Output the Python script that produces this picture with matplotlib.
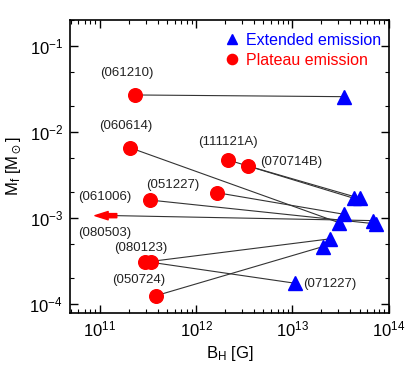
import matplotlib
matplotlib.use('Agg')
import matplotlib.pyplot as plt
import numpy as np
from matplotlib.ticker import LogLocator, NullFormatter

plt.rcParams['font.family'] = ['Liberation Sans', 'DejaVu Sans']
plt.rcParams['mathtext.fontset'] = 'custom'
plt.rcParams['mathtext.rm'] = 'Liberation Sans'
plt.rcParams['mathtext.it'] = 'Liberation Sans'
plt.rcParams['mathtext.default'] = 'regular'

# plateau emission (circle) -> extended emission (triangle), one per burst
grb = ['061210', '060614', '111121A', '070714B', '051227', '061006', '080123', '071227', '050724']
B_pl = [2.31e11, 2.05e11, 2.14e12, 3.45e12, 1.64e12, 3.30e11, 2.93e11, 3.36e11, 3.79e11]
M_pl = [2.68e-2, 6.54e-3, 4.71e-3, 4.01e-3, 1.96e-3, 1.61e-3, 3.05e-4, 3.05e-4, 1.24e-4]
B_ee = [3.42e13, 3.03e13, 4.31e13, 4.98e13, 3.42e13, 7.41e13, 2.43e13, 1.05e13, 2.07e13]
M_ee = [2.56e-2, 8.79e-4, 1.69e-3, 1.69e-3, 1.10e-3, 8.50e-4, 5.69e-4, 1.74e-4, 4.63e-4]

# 080503: upper limit on B in the plateau phase
ul_name = '080503'
ul_B = 1.50e11
ul_B_tip = 8.9e10
ul_M = 1.06e-3
ul_B_ee = 6.84e13
ul_M_ee = 9.28e-4

# label offsets in pixels (dx, dy, ha) from the circle
lab_off = {'061210': (-8, 22, 'center'), '060614': (-4, 22, 'center'),
           '111121A': (0, 18, 'center'), '070714B': (43, 4, 'center'),
           '051227': (-44, 8, 'center'), '061006': (-45, 3, 'center'),
           '080123': (-4, 14, 'center'), '050724': (-17, 16, 'center')}

fig = plt.figure(figsize=(4.19, 3.82), dpi=100)
ax = fig.add_axes([0.167, 0.181, 0.761, 0.767])

lc = '#333333'
for i in range(len(grb)):
    ax.plot([B_pl[i], B_ee[i]], [M_pl[i], M_ee[i]], '-', color=lc, lw=0.8, zorder=1)
ax.plot([ul_B, ul_B_ee], [ul_M, ul_M_ee], '-', color=lc, lw=0.8, zorder=1)

ax.plot(B_ee + [ul_B_ee], M_ee + [ul_M_ee], '^', color='blue', ms=10, mec='blue', zorder=3,
        label='Extended emission', ls='none')
ax.plot(B_pl, M_pl, 'o', color='red', ms=9.8, mec='red', zorder=3,
        label='Plateau emission', ls='none')

ax.annotate('', xy=(ul_B_tip, ul_M), xytext=(ul_B, ul_M),
            arrowprops=dict(arrowstyle='simple,head_length=0.95,head_width=0.6,tail_width=0.3',
                            color='red', mutation_scale=10, shrinkA=0, shrinkB=0), zorder=3)

for i, name in enumerate(grb):
    if name == '071227':
        ax.annotate('(' + name + ')', xy=(B_ee[i], M_ee[i]), xytext=(9, -1),
                    textcoords='offset pixels', ha='left', va='center', fontsize=9.5, color='#222222')
        continue
    dx, dy, ha = lab_off[name]
    ax.annotate('(' + name + ')', xy=(B_pl[i], M_pl[i]), xytext=(dx, dy),
                textcoords='offset pixels', ha=ha, va='center', fontsize=9.5, color='#222222')
ax.annotate('(' + ul_name + ')', xy=(ul_B, ul_M), xytext=(-12, -17),
            textcoords='offset pixels', ha='center', va='center', fontsize=9.5, color='#222222')

ax.set_xscale('log')
ax.set_yscale('log')
ax.set_xlim(4.9e10, 1.0e14)
ax.set_ylim(7.86e-5, 0.2)

ax.yaxis.set_minor_locator(LogLocator(base=10, subs=(2, 5)))
ax.yaxis.set_minor_formatter(NullFormatter())
ax.tick_params(which='both', direction='in', top=True, right=True, labelsize=12)
ax.tick_params(which='major', length=6, width=1, pad=5)
ax.tick_params(which='minor', length=3, width=0.8)
for s in ax.spines.values():
    s.set_linewidth(1.2)

ax.set_xlabel('B$_H$ [G]', fontsize=12, labelpad=3)
ax.set_ylabel('M$_f$ [M$_\\odot$]', fontsize=12, labelpad=4)

leg = ax.legend(loc='upper right', bbox_to_anchor=(0.975, 0.955), frameon=False, fontsize=11.5,
                numpoints=1, markerscale=0.75, handlelength=1.0, handletextpad=0.35,
                labelspacing=0.3, borderpad=0, borderaxespad=0)
for t, c in zip(leg.get_texts(), ['blue', 'red']):
    t.set_color(c)

fig.savefig('out.png', dpi=100)
